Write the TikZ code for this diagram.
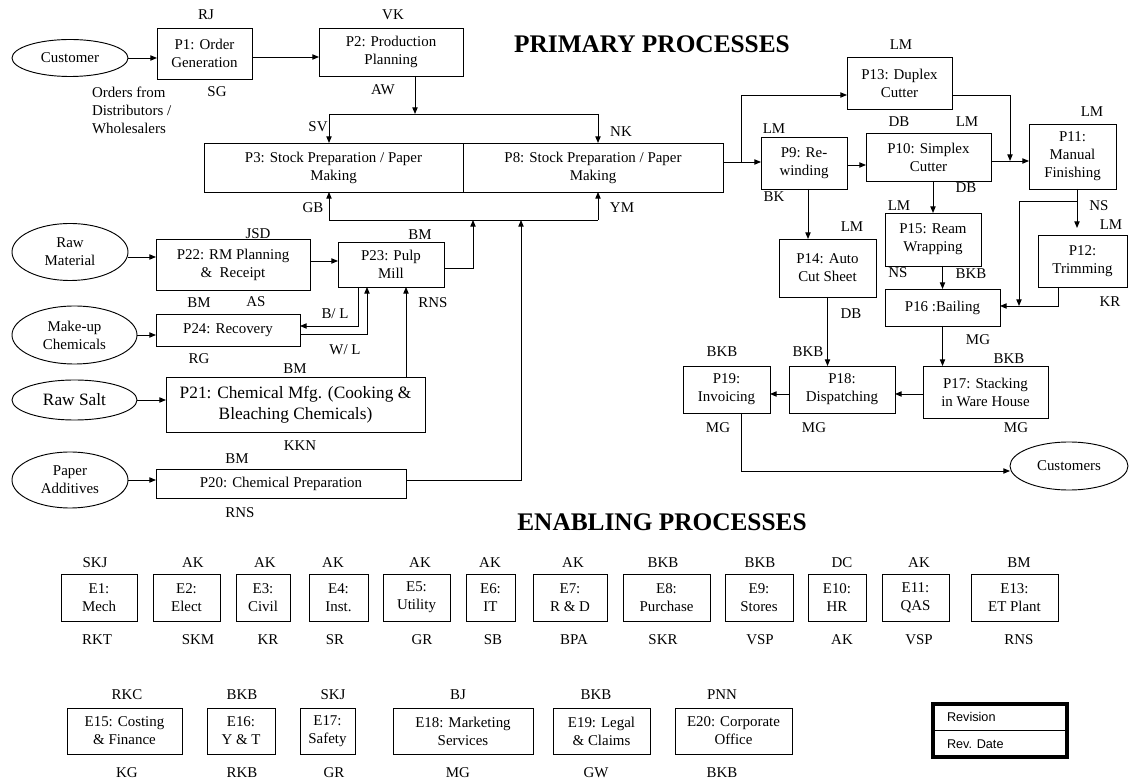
\documentclass[tikz,border=0pt]{standalone}
\usepackage{fontspec}
\setmainfont{Liberation Serif}
\newfontfamily\arialf{Liberation Sans}
\usetikzlibrary{arrows.meta,shapes.geometric}
\tikzset{
  every node/.style={inner sep=0pt, outer sep=0pt},
  txt/.style={font=\fontsize{11.2}{13.5}\selectfont, align=center},
  big/.style={font=\fontsize{13}{15.75}\selectfont, align=center},
  ttl/.style={font=\fontsize{19}{23}\selectfont\bfseries},
  box/.style={draw, line width=0.7pt, txt},
  oval/.style={draw, ellipse, line width=0.7pt, txt},
  sz/.style 2 args={minimum width=#1*0.75pt, minimum height=#2*0.75pt},
  arr/.style={line width=0.7pt, -{Triangle[length=5pt,width=4pt]}},
  ln/.style={line width=0.7pt},
  lbl/.style={txt}
}
\begin{document}
\begin{tikzpicture}[x=0.75pt,y=-0.75pt]
\useasboundingbox (0,0) rectangle (1129,780);

% titles
\node[ttl] (tprim) at (652,44) {PRIMARY PROCESSES};
\node[ttl] (tenab) at (662,522) {ENABLING PROCESSES};

% primary nodes
\node[oval, sz={116}{37}] (cust) at (70,58) {Customer};
\node[box, sz={95}{51}] (P1) at (204.5,53.5) {P1: Order\\Generation};
\node[box, sz={144}{48}] (P2) at (391,52) {P2: Production\\Planning};
\node[box, sz={259}{49}] (P3) at (333.5,167.5) {P3: Stock Preparation / Paper\\Making};
\node[box, sz={260}{49}] (P8) at (593,167.5) {P8: Stock Preparation / Paper\\Making};
\node[box, sz={105}{52}] (P13) at (899.5,83) {P13: Duplex\\Cutter};
\node[box, sz={86}{52}] (P9) at (804,163) {P9: Re-\\winding};
\node[box, sz={125}{48}] (P10) at (928.5,157) {P10: Simplex\\Cutter};
\node[box, sz={87}{65}] (P11) at (1072.5,156.5) {P11:\\Manual\\Finishing};
\node[box, sz={89}{52}] (P12) at (1082.5,261) {P12:\\Trimming};
\node[box, sz={97}{58}] (P14) at (827.5,268) {P14: Auto\\Cut Sheet};
\node[box, sz={96}{53}] (P15) at (933,239.5) {P15: Ream\\Wrapping};
\node[box, sz={115}{37}] (P16) at (942.5,307.5) {P16 :Bailing};
\node[box, sz={125}{52}] (P17) at (985.5,392) {P17: Stacking\\in Ware House};
\node[box, sz={106}{47}] (P18) at (842,389.5) {P18:\\Dispatching};
\node[box, sz={87}{47}] (P19) at (726.5,389.5) {P19:\\Invoicing};
\node[oval, sz={118}{48}] (custs) at (1069,466) {Customers};

\node[oval, sz={116}{57}] (rawm) at (70,252) {Raw\\Material};
\node[box, sz={154}{51}] (P22) at (233,264.5) {P22: RM Planning\\\&\ \ Receipt};
\node[box, sz={106}{45}] (P23) at (391,264.5) {P23: Pulp\\Mill};
\node[oval, sz={125}{58}] (makeup) at (74.5,335) {Make-up\\Chemicals};
\node[box, sz={144}{32}] (P24) at (228,330) {P24: Recovery};
\node[oval, big, sz={125}{40}] (rawsalt) at (74.5,400) {Raw Salt};
\node[box, big, sz={259}{55}] (P21) at (295.5,404.5) {P21: Chemical Mfg. (Cooking \&\\Bleaching Chemicals)};
\node[oval, sz={116}{56}] (paperadd) at (70,480) {Paper\\Additives};
\node[box, sz={250}{29}] (P20) at (281,483.5) {P20: Chemical Preparation};

% text beside the customer
\node[lbl, align=left, anchor=west] (orders) at (92,110) {Orders from\\Distributors /\\Wholesalers};

% owner labels
\foreach \t/\x/\y [count=\i] in {RJ/206/15, SG/217/92, VK/393/15, AW/383/90, SV/318/127, NK/621/132,
  GB/313/208, YM/622/208, LM/901/45, LM/774/129, BK/774/197, DB/899/122, LM/967/122, DB/966/188,
  LM/1092/112, NS/1099/206, LM/1111/225, KR/1110/302, LM/852/227, DB/851/314, LM/899/206,
  NS/898/273, BKB/971/274, MG/978/340, BKB/1009/359, MG/1016/428, BKB/808/352, MG/814/428,
  BKB/722/352, MG/718/428, JSD/258/234, BM/199/303, AS/256/302, BM/420/235, RNS/433/303,
  RG/199/359, BM/295/369, KKN/300/446, BM/237/459, RNS/240/513}
  {\node[lbl] (lab\i) at (\x,\y) {\t};}
\node[lbl] (labBL) at (335,314) {B/ L};
\node[lbl] (labWL) at (345,350) {W/ L};

% connectors: top
\draw[arr] (cust.east) -- (cust.east -| P1.west);
\draw[arr] (P1.east |- 0,57) -- (P2.west |- 0,57);
\coordinate (sp0) at (415,114);
\coordinate (sp1) at (329,114);
\coordinate (sp2) at (598,114);
\draw[arr] (P2.south -| sp0) -- (sp0);
\draw[ln] (sp1) -- (sp2);
\draw[arr] (sp1) -- (sp1 |- P3.north);
\draw[arr] (sp2) -- (sp2 |- P8.north);

% connectors: into P3 / P8 from below
\coordinate (mg1) at (329,220);
\coordinate (mg2) at (598,220);
\coordinate (mg3) at (473,220);
\coordinate (mg4) at (521,220);
\draw[ln] (mg1) -- (mg2);
\draw[arr] (mg1) -- (mg1 |- P3.south);
\draw[arr] (mg2) -- (mg2 |- P8.south);
\draw[arr] (P23.east |- 0,268) -| (mg3);
\draw[arr] (P20.east |- 0,480) -| (mg4);

% connectors: finishing chain
\coordinate (br1) at (741,162);
\draw[arr] (P8.east |- br1) -- (P9.west |- br1);
\draw[arr] (br1) |- (P13.west |- 0,95);
\draw[arr] (P9.east |- 0,165) -- (P10.west |- 0,165);
\draw[arr] (P10.east |- 0,161) -- (P11.west |- 0,161);
\coordinate (j13) at (1010,161);
\draw[arr] (P13.east |- 0,95) -| (j13);
\draw[arr] (P9.south -| 808,0) -- (P14.north -| 808,0);
\draw[arr] (P10.south -| P15.north) -- (P15.north);
\draw[arr] (P15.south -| P16.north) -- (P16.north);
\coordinate (p12in) at (1077,228);
\draw[arr] (P11.south -| p12in) -- (p12in);
\coordinate (br2) at (1077,201);
\coordinate (j16) at (1019,306);
\draw[arr] (br2) -| (j16);
\draw[arr] (P12.south -| 1058,0) |- (P16.east |- j16);
\draw[arr] (P16.south) -- (P16.south |- P17.north);
\draw[arr] (P14.south) -- (P14.south |- P18.north);
\draw[arr] (P17.west |- 0,394) -- (P18.east |- 0,394);
\draw[arr] (P18.west |- 0,394) -- (P19.east |- 0,394);
\draw[arr] (P19.south -| 741,0) |- (custs.west |- 0,471);

% connectors: raw material side
\draw[arr] (rawm.east |- 0,257) -- (P22.west |- 0,257);
\draw[arr] (P22.east |- 0,261) -- (P23.west |- 0,261);
\draw[arr] (makeup.east) -- (makeup.east -| P24.west);
\draw[arr] (P23.south -| 358,0) |- (P24.east |- 0,326);
\draw[arr] (P24.east |- 0,334) -| (P23.south -| 367,0);
\draw[arr] (rawsalt.east) -- (rawsalt.east -| P21.west);
\draw[arr] (P21.north -| 406,0) -- (P23.south -| 406,0);
\draw[arr] (paperadd.east) -- (paperadd.east -| P20.west);

% enabling processes, row 1
\foreach \n/\t/\cx/\w/\ax/\at/\bx/\bt in {
  E1/{E1:\\Mech}/99/76/95/SKJ/97/RKT,
  E2/{E2:\\Elect}/186.5/67/193/AK/198/SKM,
  E3/{E3:\\Civil}/263/54/265/AK/268/KR,
  E4/{E4:\\Inst.}/338.5/59/333/AK/335/SR,
  E5/{E5:\\Utility}/416.5/67/420/AK/422/GR,
  E6/{E6:\\IT}/490.5/49/490/AK/493/SB,
  E7/{E7:\\R \& D}/570/74/573/AK/574/BPA,
  E8/{E8:\\Purchase}/666.5/87/663/BKB/663/SKR,
  E9/{E9:\\Stores}/759/68/760/BKB/760/VSP,
  E10/{E10:\\HR}/837/58/842/DC/842/AK,
  E11/{E11:\\QAS}/915.5/67/919/AK/919/VSP,
  E13/{E13:\\ET Plant}/1014.5/87/1019/BM/1019/RNS}
{
  \node[box, sz={\w}{47}] (\n) at (\cx,597.5) {\t};
  \node[lbl] (\n top) at (\ax,563) {\at};
  \node[lbl] (\n bot) at (\bx,640) {\bt};
}

% enabling processes, row 2
\foreach \n/\t/\cx/\w/\ax/\at/\bx/\bt in {
  E15/{E15: Costing\\\& Finance}/124.5/115/127/RKC/127/KG,
  E16/{E16:\\Y \& T}/241/68/242/BKB/242/RKB,
  E17/{E17:\\Safety}/327.5/55/333/SKJ/334/GR,
  E18/{E18: Marketing\\Services}/463/140/458/BJ/458/MG,
  E19/{E19: Legal\\\& Claims}/601.5/97/596/BKB/596/GW,
  E20/{E20: Corporate\\Office}/733.5/117/722/PNN/722/BKB}
{
  \node[box, sz={\w}{46}] (\n) at (\cx,731) {\t};
  \node[lbl] (\n top) at (\ax,695) {\at};
  \node[lbl] (\n bot) at (\bx,773) {\bt};
}

% revision box
\node[draw, line width=3pt, sz={134}{53}] (rev) at (1000,730.5) {};
\draw[line width=0.8pt] (rev.west) -- (rev.east);
\node[font=\arialf\fontsize{9.5}{11}\selectfont, anchor=west] (rv1) at (947,717) {Revision};
\node[font=\arialf\fontsize{9.5}{11}\selectfont, anchor=west] (rv2) at (947,744) {Rev. Date};
\end{tikzpicture}
\end{document}
